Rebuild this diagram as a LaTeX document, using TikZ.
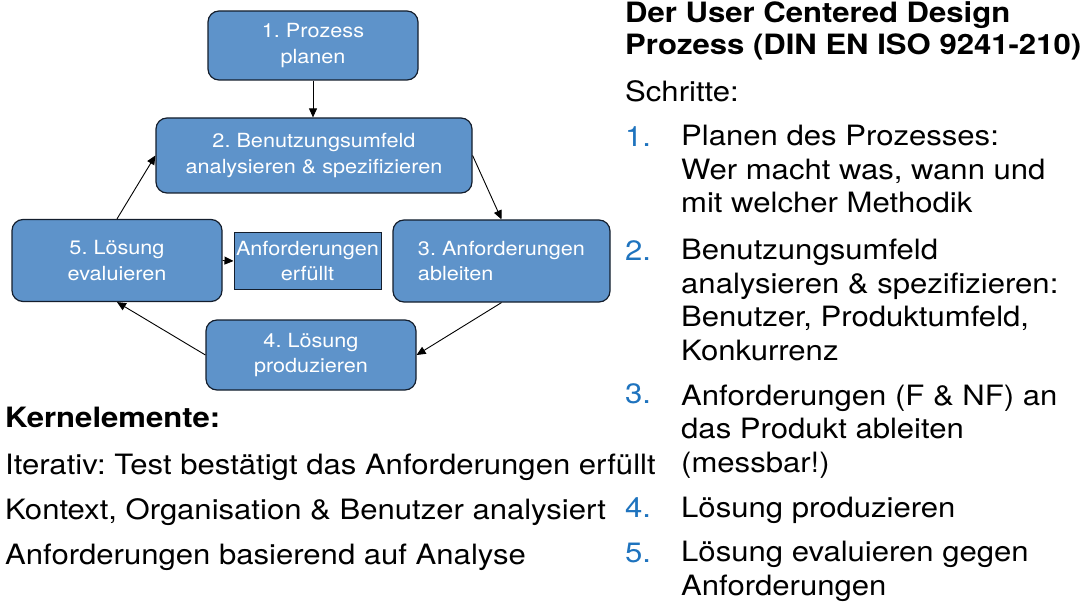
\documentclass[tikz,border=0pt]{standalone}
\usepackage{fontspec}
\setmainfont[FakeStretch=1.11]{TeX Gyre Heros}
\usepackage{xcolor}
\usetikzlibrary{positioning,arrows.meta}
\definecolor{boxblue}{RGB}{94,147,202}
\definecolor{boxline}{RGB}{20,30,45}
\definecolor{numblue}{RGB}{30,115,190}
\frenchspacing

\begin{document}
\begin{tikzpicture}[x=1pt,y=-1pt,
    stepbox/.style={draw=boxline, line width=1.2pt, fill=boxblue, rounded corners=11pt,
        text=white, align=center, inner sep=0pt, font=\fontsize{19.5}{25.5}\selectfont},
    flow/.style={-{Triangle[length=9pt,width=8pt]}, line width=0.9pt},
    txt/.style={anchor=base west, inner sep=0pt, align=left, font=\fontsize{28}{33.5}\selectfont},
    num/.style={txt, text=numblue}]
    \useasboundingbox (0,0) rectangle (1088,607);

    % process cycle
    \node[stepbox, minimum width=210pt, minimum height=69pt] (plan) at (313,45.5) {1. Prozess\\planen};
    \node[stepbox, minimum width=316pt, minimum height=75pt] (context) at (314,155.5) {2. Benutzungsumfeld\\analysieren \& spezifizieren};
    \node[stepbox, minimum width=217pt, minimum height=82pt, align=left] (require) at (501.5,261) {3. Anforderungen\\ableiten};
    \node[stepbox, minimum width=210pt, minimum height=70pt] (produce) at (311,355) {4. Lösung\\produzieren};
    \node[stepbox, minimum width=210pt, minimum height=82pt] (evaluate) at (117,260.5) {5. Lösung\\evaluieren};
    \node[stepbox, rounded corners=0pt, line width=1pt, minimum width=147pt, minimum height=56pt] (done) at (307.5,261) {Anforderungen\\erfüllt};

    \draw[flow] (plan.south) -- (plan.south |- context.north);
    \draw[flow] (context.east) -- (require.north);
    \draw[flow] (require.south) -- (produce.east);
    \draw[flow] (produce.west) -- (evaluate.south);
    \draw[flow] (evaluate.north) -- (context.west);
    \draw[flow] (evaluate.east) -- (done.west);

    % key elements
    \node[txt, font=\fontsize{28}{33.5}\selectfont\bfseries] (kern) at (5,427) {Kernelemente:};
    \node[txt] (iter) at (5,474) {Iterativ: Test bestätigt das Anforderungen erfüllt};
    \node[txt] (ctx) at (5,519) {Kontext, Organisation \& Benutzer analysiert};
    \node[txt] (base) at (5,564) {Anforderungen basierend auf Analyse};

    % steps (multi-line nodes sit on their last baseline)
    \node[txt, font=\fontsize{28}{32.3}\selectfont\bfseries] (title) at (625,55) {Der User Centered Design\\Prozess (DIN EN ISO 9241-210)};
    \node[txt] (steps) at (625,102) {Schritte:};
    \foreach \n/\y in {1/147,2/260,3/403,4/517,5/562}
        \node[num] (n\n) at (625,\y) {\n.};
    \node[txt] (s1) at (681,213) {Planen des Prozesses:\\Wer macht was, wann und\\mit welcher Methodik};
    \node[txt] (s2) at (681,360) {Benutzungsumfeld\\analysieren \& spezifizieren:\\Benutzer, Produktumfeld,\\Konkurrenz};
    \node[txt] (s3) at (681,472) {Anforderungen (F \& NF) an\\das Produkt ableiten\\(messbar!)};
    \node[txt] (s4) at (681,517) {Lösung produzieren};
    \node[txt] (s5) at (681,595) {Lösung evaluieren gegen\\Anforderungen};
\end{tikzpicture}
\end{document}
